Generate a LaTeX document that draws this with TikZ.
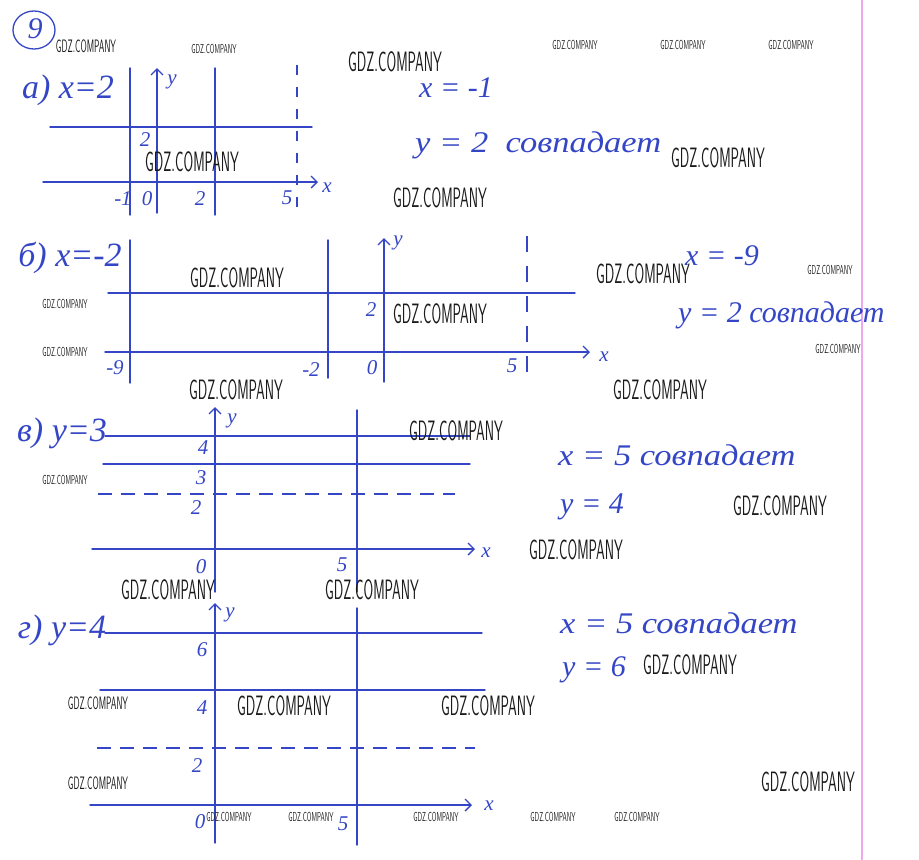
\documentclass[tikz,border=0pt]{standalone}
\usepackage{fontspec}
\usepackage{tikz}
\usetikzlibrary{arrows.meta}
\newfontfamily\hand{Liberation Serif}
\definecolor{ink}{HTML}{3446C6}
\definecolor{pinkline}{HTML}{EFA9EA}
\definecolor{wmark}{HTML}{1A1A1A}
\newcommand{\gdz}{\scalebox{0.5}[1]{GDZ.COMPANY}}
\newcommand{\wide}[1]{\scalebox{1.15}[1]{#1}}
\tikzset{
  ln/.style={draw=ink, line width=1.4pt, line cap=round},
  ax/.style={ln, -{Straight Barb[length=6pt,width=12pt]}},
  dsh/.style={draw=ink, line width=1.3pt, dash pattern=on 14pt off 9pt},
  part/.style={text=ink, font=\hand\itshape\fontsize{34}{34}\selectfont, inner sep=0pt},
  hw/.style={text=ink, font=\hand\itshape\fontsize{30}{30}\selectfont, inner sep=0pt},
  num/.style={text=ink, font=\hand\itshape\fontsize{21}{21}\selectfont, inner sep=0pt},
  wmL/.style={text=wmark, font=\sffamily\fontsize{28}{28}\selectfont, inner sep=0pt},
  wmM/.style={text=wmark, font=\sffamily\fontsize{18}{18}\selectfont, inner sep=0pt},
  wmS/.style={text=wmark, font=\sffamily\fontsize{13}{13}\selectfont, inner sep=0pt},
}

\begin{document}
\begin{tikzpicture}[x=1pt,y=-1pt]
  \useasboundingbox[fill=white] (0,0) rectangle (919,860);
  \draw[pinkline, line width=1.5pt] (862,0) -- (862,860);

  % number of the task
  \draw[ink, line width=1.3pt] (34,30) ellipse (21 and 19);
  \node[hw] (task) at (35,29) {9};

  % a)
  \node[part] (pa) at (68,90) {а) x=2};
  \draw[ln] (130,68) -- (130,215);
  \draw[ln] (215,68) -- (215,215);
  \draw[ink, line width=1.3pt, dash pattern=on 10pt off 12pt] (297,65) -- (297,217);
  \draw[ln] (50,127) -- (312,127);
  \draw[ax] (157,213) -- (157,68);
  \draw[ax] (43,182) -- (318,182);
  \node[num] (ay) at (172,82) {y};
  \node[num] (ax) at (327,188) {x};
  \node[num] (a2y) at (145,140) {2};
  \node[num] (am1) at (123,199) {-1};
  \node[num] (a0) at (147,199) {0};
  \node[num] (a2) at (200,199) {2};
  \node[num] (a5) at (287,198) {5};
  \node[hw] (ar1) at (456,88) {x = -1};
  \node[hw, anchor=west] (ar2) at (415,145) {\wide{y = 2\ \ совпадает}};

  % b)
  \node[part] (pb) at (70,258) {б) x=-2};
  \draw[ln] (130,240) -- (130,383);
  \draw[ln] (328,240) -- (328,378);
  \draw[ink, line width=1.3pt, dash pattern=on 16pt off 14pt] (527,236) -- (527,382);
  \draw[ln] (108,293) -- (575,293);
  \draw[ax] (384,382) -- (384,238);
  \draw[ax] (105,352) -- (590,352);
  \node[num] (by) at (398,243) {y};
  \node[num] (bx) at (604,357) {x};
  \node[num] (b2y) at (371,310) {2};
  \node[num] (bm9) at (115,368) {-9};
  \node[num] (bm2) at (311,370) {-2};
  \node[num] (b0) at (372,368) {0};
  \node[num] (b5) at (512,366) {5};
  \node[hw] (br1) at (722,256) {x = -9};
  \node[hw, anchor=west] (br2) at (678,315) {y = 2 совпадает};

  % v)
  \node[part] (pc) at (62,433) {в) y=3};
  \draw[ln] (357,410) -- (357,592);
  \draw[ln] (105,436) -- (470,436);
  \draw[ln] (103,464) -- (470,464);
  \draw[dsh] (98,494) -- (455,494);
  \draw[ax] (215,592) -- (215,407);
  \draw[ax] (92,549) -- (475,549);
  \node[num] (cy) at (232,421) {y};
  \node[num] (cx) at (486,553) {x};
  \node[num] (c4) at (203,448) {4};
  \node[num] (c3) at (201,478) {3};
  \node[num] (c2) at (196,508) {2};
  \node[num] (c0) at (201,567) {0};
  \node[num] (c5) at (342,565) {5};
  \node[hw, anchor=west] (cr1) at (558,455) {\wide{x = 5 совпадает}};
  \node[hw, anchor=west] (cr2) at (560,507) {y = 4};

  % g)
  \node[part] (pd) at (62,630) {г) y=4};
  \draw[ln] (357,608) -- (357,845);
  \draw[ln] (105,633) -- (482,633);
  \draw[ln] (100,690) -- (485,690);
  \draw[dsh] (97,748) -- (475,748);
  \draw[ax] (215,843) -- (215,603);
  \draw[ax] (90,805) -- (472,805);
  \node[num] (dy) at (230,615) {y};
  \node[num] (dx) at (489,806) {x};
  \node[num] (d6) at (202,650) {6};
  \node[num] (d4) at (202,708) {4};
  \node[num] (d2) at (197,766) {2};
  \node[num] (d0) at (200,822) {0};
  \node[num] (d5) at (343,824) {5};
  \node[hw, anchor=west] (dr1) at (560,623) {\wide{x = 5 совпадает}};
  \node[hw, anchor=west] (dr2) at (562,670) {y = 6};

  % watermarks
  \foreach \px/\py [count=\i] in {395/62, 192/162, 440/198, 718/158, 237/278,
      643/274, 440/314, 236/390, 660/390, 456/431, 780/506, 576/550,
      168/590, 372/590, 690/665, 284/706, 488/706, 808/782}
    \node[wmL] (wl\i) at (\px,\py) {\gdz};
  \foreach \px/\py [count=\i] in {86/46, 98/703, 98/783}
    \node[wmM] (wm\i) at (\px,\py) {\gdz};
  \foreach \px/\py [count=\i] in {214/49, 575/45, 683/45, 791/45, 65/304,
      65/352, 65/480, 830/270, 838/349, 229/817, 311/817, 436/817,
      553/817, 637/817}
    \node[wmS] (ws\i) at (\px,\py) {\gdz};
\end{tikzpicture}
\end{document}
